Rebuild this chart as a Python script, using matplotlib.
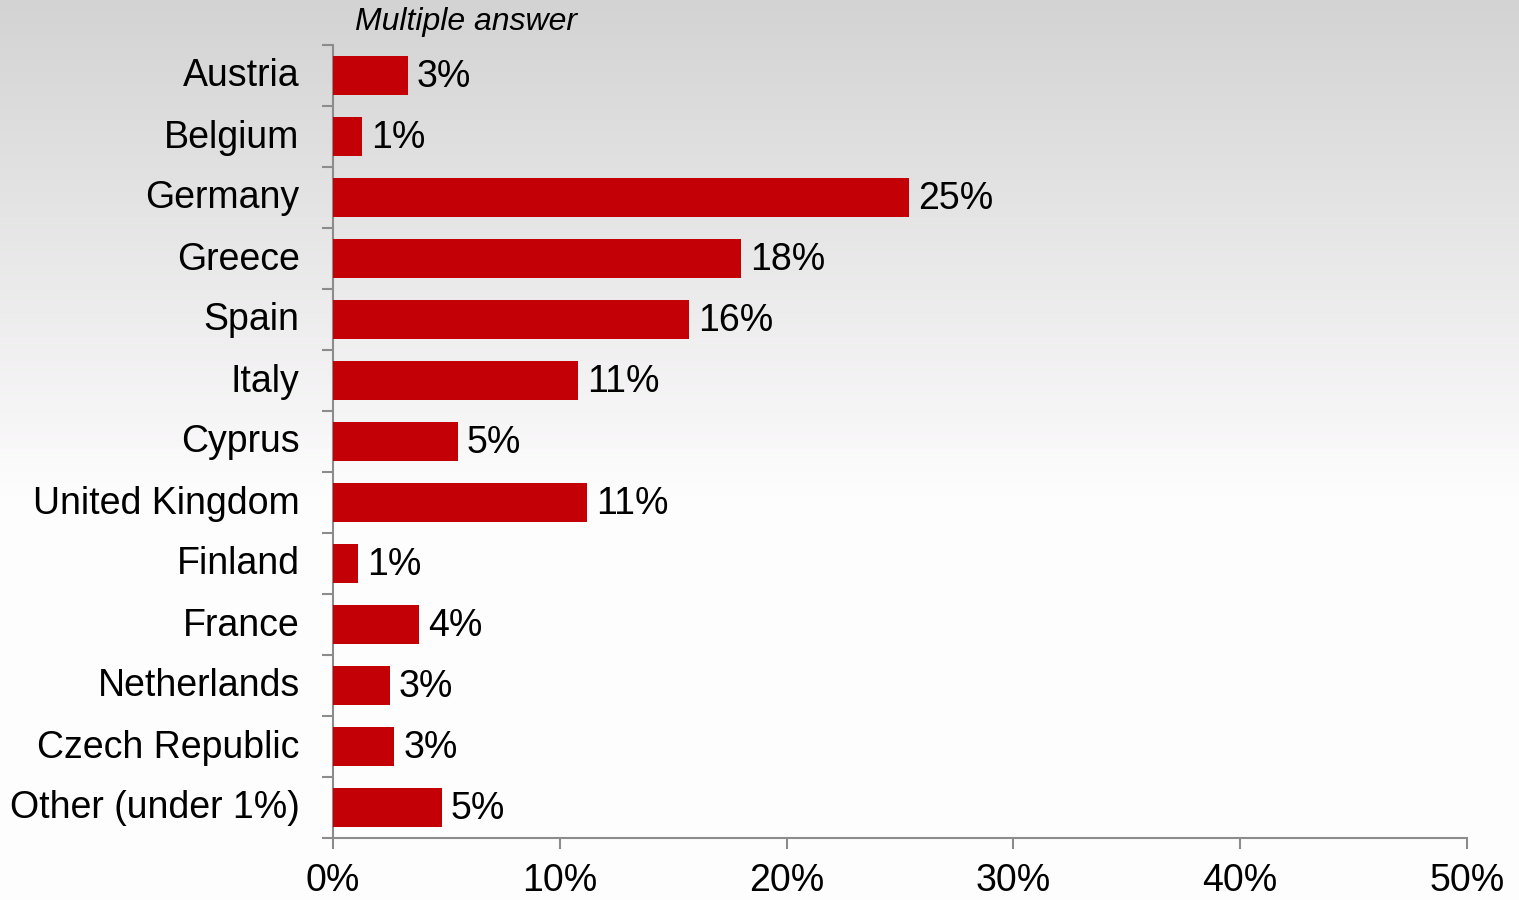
import numpy as np
import matplotlib.pyplot as plt
import matplotlib.transforms as mtransforms
from matplotlib.ticker import FixedLocator, PercentFormatter

plt.rcParams['font.family'] = ['Liberation Sans', 'DejaVu Sans']

# Data
countries = ['Austria', 'Belgium', 'Germany', 'Greece', 'Spain', 'Italy', 'Cyprus',
             'United Kingdom', 'Finland', 'France', 'Netherlands', 'Czech Republic',
             'Other (under 1%)']
shares = [3.3, 1.3, 25.4, 18.0, 15.7, 10.8, 5.5, 11.2, 1.1, 3.8, 2.5, 2.7, 4.8]
labels = ['3%', '1%', '25%', '18%', '16%', '11%', '5%', '11%', '1%', '4%', '3%', '3%', '5%']
xticks = [0, 10, 20, 30, 40, 50]

fig = plt.figure(figsize=(15.19, 9), dpi=100)

# grey-to-white background gradient
bg = fig.add_axes([0, 0, 1, 1], zorder=-1)
rows = np.linspace(0, 1, 900)
shade = np.clip(212 + (253 - 212) * rows / 0.55, 212, 253) / 255
img = np.stack([shade, shade * 0.995 + 0.005 * (rows > 0.5), shade], axis=-1)[:, None, :]
img = np.repeat(img, 10, axis=1)
bg.imshow(img, aspect='auto', extent=[0, 1, 0, 1], origin='upper')
bg.axis('off')

ax = fig.add_axes([333 / 1519, 62 / 900, 1134 / 1519, 793 / 900])
ax.patch.set_alpha(0)

y = np.arange(len(countries))
ax.barh(y, shares, height=0.65, color='#c20005', zorder=3)
for yi, v, lab in zip(y, shares, labels):
    ax.text(v + 0.4, yi + 0.03, lab, va='center', ha='left', fontsize=27, color='black')

ax.set_ylim(len(countries) - 0.5, -0.5)
ax.set_xlim(0, 50)
ax.set_yticks(y)
ax.set_yticklabels(countries)
ax.yaxis.set_minor_locator(FixedLocator(np.arange(-0.5, len(countries), 1)))
ax.tick_params(axis='y', which='major', length=0, pad=24, labelsize=27)
ax.tick_params(axis='y', which='minor', length=8, width=1.5, color='#8c8c8c')
shift_up = mtransforms.ScaledTranslation(0, 3 / 100, fig.dpi_scale_trans)
for t in ax.get_yticklabels():
    t.set_transform(t.get_transform() + shift_up)

ax.set_xticks(xticks)
ax.xaxis.set_major_formatter(PercentFormatter(decimals=0))
ax.tick_params(axis='x', length=8, width=1.5, color='#8c8c8c', pad=10, labelsize=27)

for side in ['top', 'right']:
    ax.spines[side].set_visible(False)
for side in ['left', 'bottom']:
    ax.spines[side].set_color('#8c8c8c')
    ax.spines[side].set_linewidth(1.5)

fig.text(355 / 1519, 1 - 22 / 900, 'Multiple answer', fontsize=23, style='italic',
         va='center', ha='left')

fig.savefig('out.png', dpi=100)
